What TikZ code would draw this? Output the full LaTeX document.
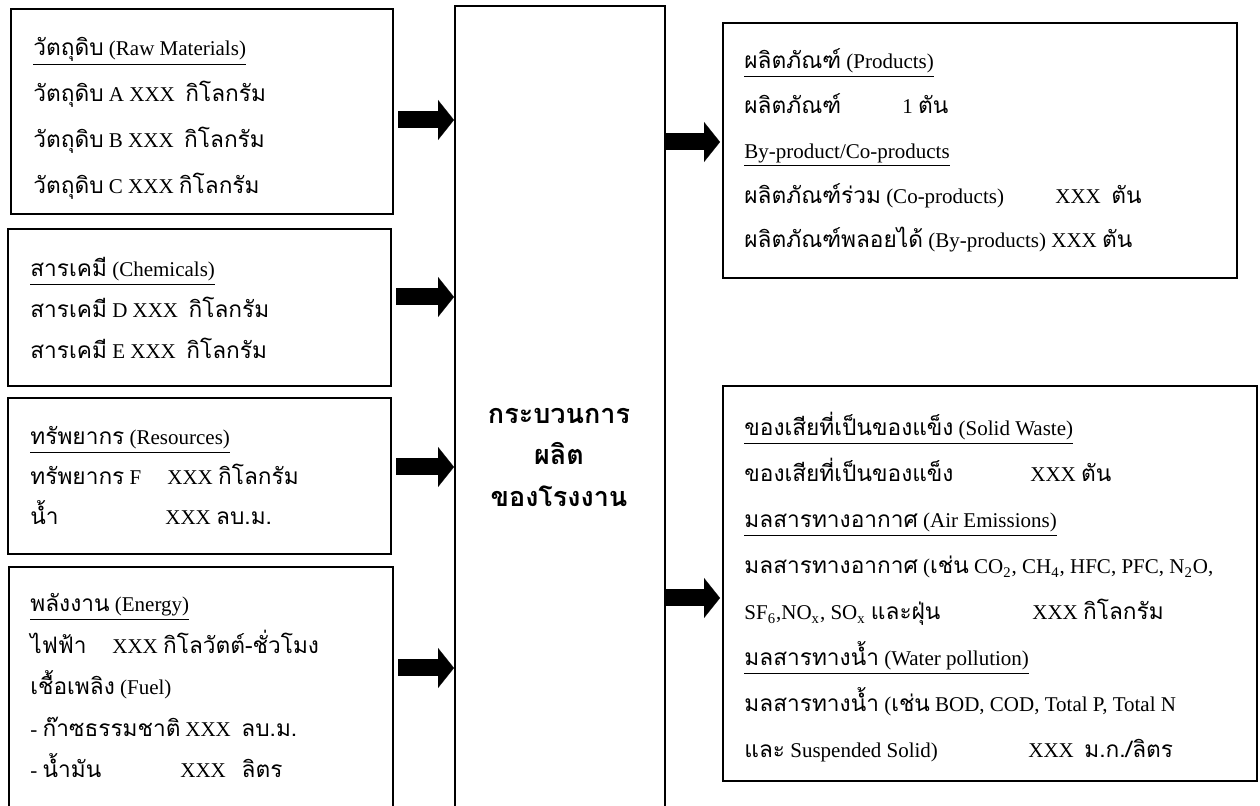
\documentclass[tikz,border=0pt]{standalone}
\usepackage{fontspec}
\setmainfont{Liberation Serif}
\newfontfamily\thaifont[Script=Thai,Scale=1.08]{Loma}
\newcommand{\thai}[1]{{\thaifont #1}}
\usetikzlibrary{arrows.meta}

\begin{document}
\begin{tikzpicture}[x=0.5pt, y=-0.5pt,
	box/.style = {draw, line width=1pt, anchor=north west, inner sep=0pt},
	txt/.style = {anchor=base west, align=left, inner sep=0pt},
	bigarrow/.style = {line width=8.5pt, -{Triangle[length=8pt, width=20pt, line width=0.1pt]}}]
	\useasboundingbox (0,0) rectangle (1260,806);
	\fill[white] (0,0) rectangle (1260,806);
	\clip (0,0) rectangle (1260,806);

	\node[box, minimum width=191pt, minimum height=102.5pt] (raw) at (10,8) {};
	\node[box, minimum width=191.5pt, minimum height=78.5pt] (chem) at (7,228) {};
	\node[box, minimum width=191.5pt, minimum height=78pt] (res) at (7,397) {};
	\node[box, minimum width=192pt, minimum height=150pt] (energy) at (8,566) {};
	\node[box, minimum width=105pt, minimum height=450pt] (proc) at (454,5) {};
	\node[box, minimum width=257pt, minimum height=127.5pt] (prod) at (722,22) {};
	\node[box, minimum width=267pt, minimum height=197.5pt] (waste) at (722,385) {};

	% base anchor = baseline of the last line
	\node[txt, font=\fontsize{10.5}{23}\selectfont] (rawtxt) at (33,194) {%
		\underline{\thai{วัตถุดิบ} (Raw Materials)}\\
		\thai{วัตถุดิบ} A XXX \ \thai{กิโลกรัม}\\
		\thai{วัตถุดิบ} B XXX \ \thai{กิโลกรัม}\\
		\thai{วัตถุดิบ} C XXX \thai{กิโลกรัม}};
	\node[txt, font=\fontsize{10.5}{20.5}\selectfont] (chemtxt) at (30,359) {%
		\underline{\thai{สารเคมี} (Chemicals)}\\
		\thai{สารเคมี} D XXX \ \thai{กิโลกรัม}\\
		\thai{สารเคมี} E XXX \ \thai{กิโลกรัม}};
	\node[txt, font=\fontsize{10.5}{20}\selectfont] (restxt) at (30,525) {%
		\underline{\thai{ทรัพยากร} (Resources)}\\
		\makebox[68.5pt][l]{\thai{ทรัพยากร} F}XXX \thai{กิโลกรัม}\\
		\makebox[67.5pt][l]{\thai{น้ำ}}XXX \thai{ลบ.ม.}};
	\node[txt, font=\fontsize{10.5}{20.75}\selectfont] (energytxt) at (30,778) {%
		\underline{\thai{พลังงาน} (Energy)}\\
		\makebox[41pt][l]{\thai{ไฟฟ้า}}XXX \thai{กิโลวัตต์-ชั่วโมง}\\
		\thai{เชื้อเพลิง} (Fuel)\\
		\makebox[77.5pt][l]{- \thai{ก๊าซธรรมชาติ}}XXX \ \thai{ลบ.ม.}\\
		\makebox[75pt][l]{- \thai{น้ำมัน}}XXX \ \ \thai{ลิตร}};
	\node[font=\thaifont\bfseries\fontsize{12.5}{20.75}\selectfont, align=center] (proctxt) at (559,457) {%
		กระบวนการ\\ผลิต\\ของโรงงาน};
	\node[txt, font=\fontsize{10.5}{22.4}\selectfont] (prodtxt) at (744,248) {%
		\underline{\thai{ผลิตภัณฑ์} (Products)}\\
		\makebox[79pt][l]{\thai{ผลิตภัณฑ์}}1 \thai{ตัน}\\
		\underline{By-product/Co-products}\\
		\makebox[155.5pt][l]{\thai{ผลิตภัณฑ์ร่วม} (Co-products)}XXX \ \thai{ตัน}\\
		\thai{ผลิตภัณฑ์พลอยได้} (By-products) XXX \thai{ตัน}};
	\node[txt, font=\fontsize{10.5}{23}\selectfont] (wastetxt) at (744,758) {%
		\underline{\thai{ของเสียที่เป็นของแข็ง} (Solid Waste)}\\
		\makebox[143pt][l]{\thai{ของเสียที่เป็นของแข็ง}}XXX \thai{ตัน}\\
		\underline{\thai{มลสารทางอากาศ} (Air Emissions)}\\
		\thai{มลสารทางอากาศ} (\thai{เช่น} CO\textsubscript{2}, CH\textsubscript{4}, HFC, PFC, N\textsubscript{2}O,\\
		\makebox[144pt][l]{SF\textsubscript{6},NO\textsubscript{x}, SO\textsubscript{x} \thai{และฝุ่น}}XXX \thai{กิโลกรัม}\\
		\underline{\thai{มลสารทางน้ำ} (Water pollution)}\\
		\thai{มลสารทางน้ำ} (\thai{เช่น} BOD, COD, Total P, Total N\\
		\makebox[142pt][l]{\thai{และ} Suspended Solid)}XXX \ \thai{ม.ก./ลิตร}};

	\draw[bigarrow, shorten <=2pt] (raw.east |- 0,120) -- (proc.west |- 0,120);
	\draw[bigarrow, shorten <=2pt] (chem.east |- 0,297) -- (proc.west |- 0,297);
	\draw[bigarrow, shorten <=2pt] (res.east |- 0,467) -- (proc.west |- 0,467);
	\draw[bigarrow, shorten <=2pt] (energy.east |- 0,668) -- (proc.west |- 0,668);
	\draw[bigarrow, shorten >=1pt] (proc.east |- 0,142) -- (prod.west |- 0,142);
	\draw[bigarrow, shorten >=1pt] (proc.east |- 0,598) -- (waste.west |- 0,598);
\end{tikzpicture}
\end{document}
